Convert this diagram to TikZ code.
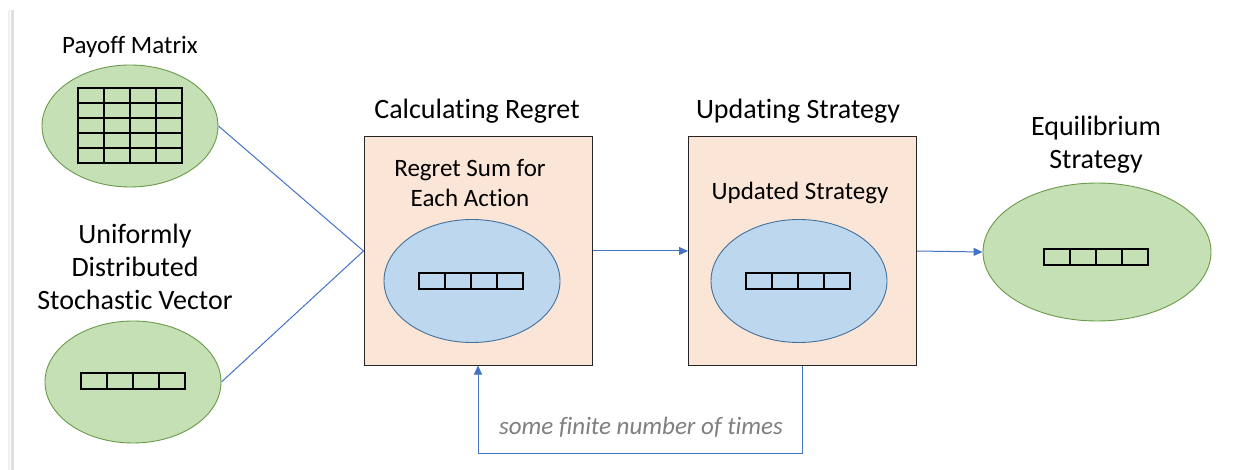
\documentclass[tikz,border=0pt]{standalone}
\usepackage{fontspec}
\setmainfont{Carlito}[Ligatures={NoCommon}]
\usetikzlibrary{shapes.geometric,arrows.meta}

\definecolor{greenfill}{HTML}{C5E0B4}
\definecolor{greenline}{HTML}{6A9A4A}
\definecolor{bluefill}{HTML}{BDD7EE}
\definecolor{blueline}{HTML}{41719C}
\definecolor{boxfill}{HTML}{FBE5D6}
\definecolor{flowblue}{HTML}{4472C4}
\definecolor{notegray}{HTML}{7F7F7F}

\tikzset{
  greenell/.style={ellipse, draw=greenline, fill=greenfill, line width=0.9pt,
    minimum width=176pt, minimum height=122pt, inner sep=0pt},
  blueell/.style={ellipse, draw=blueline, fill=bluefill, line width=0.9pt,
    minimum width=176pt, minimum height=123pt, inner sep=0pt},
  stagebox/.style={rectangle, draw=black!85, fill=boxfill, line width=1pt,
    minimum width=228pt, minimum height=228pt, inner sep=0pt},
  bigtxt/.style={font=\fontsize{28}{33}\selectfont, align=center, inner sep=0pt},
  smalltxt/.style={font=\fontsize{25}{30}\selectfont, align=center, inner sep=0pt},
  flow/.style={draw=flowblue, line width=1pt},
  flowarrow/.style={flow, -{Triangle[length=9pt,width=8pt]}},
  cellline/.style={draw=black, line width=1.6pt},
}

% a row of four cells centred at #1
\newcommand{\vecrow}[1]{%
  \begin{scope}[shift={#1}]
    \draw[cellline] (-52,-8) rectangle (52,8);
    \foreach \i in {-26,0,26} \draw[cellline] (\i,-8) -- (\i,8);
  \end{scope}}

\begin{document}
\begin{tikzpicture}[x=1pt,y=-1pt]
\useasboundingbox (0,0) rectangle (1250,470);
\fill[white] (0,0) rectangle (1250,470);

% page edge shadow
\draw[black!12, line width=3pt] (12,10) -- (12,470);
\draw[black!6, line width=2pt] (9,10) -- (9,470);

% inputs
\node[smalltxt] (payofflabel) at (130,47) {Payoff Matrix};
\node[greenell] (payoff) at (130,126) {};
\begin{scope}[shift={(130,125.5)}]
  \draw[cellline] (-52,-37.5) rectangle (52,37.5);
  \foreach \i in {-26,0,26} \draw[cellline] (\i,-37.5) -- (\i,37.5);
  \foreach \j in {-22.5,-7.5,7.5,22.5} \draw[cellline] (-52,\j) -- (52,\j);
\end{scope}

\node[bigtxt] (veclabel) at (135,267) {Uniformly\\Distributed\\Stochastic Vector};
\node[greenell] (vec) at (133,382) {};
\vecrow{(133,381)}

% stage 1
\node[bigtxt] (regretlabel) at (477,111) {Calculating Regret};
\node[stagebox] (box1) at (478,251) {};
\node[smalltxt] (regrettxt) at (470,183) {Regret Sum for\\Each Action};
\node[blueell] (regretell) at (472,281) {};
\vecrow{(471,281)}

% stage 2
\node[bigtxt] (updatelabel) at (798,111) {Updating Strategy};
\node[stagebox] (box2) at (802.5,251) {};
\node[smalltxt] (updatetxt) at (800,193) {Updated Strategy};
\node[blueell] (updateell) at (799,281) {};
\vecrow{(798,281)}

% output
\node[bigtxt] (eqlabel) at (1096,145) {Equilibrium\\Strategy};
\node[greenell, minimum width=228pt, minimum height=138pt] (eq) at (1097,252) {};
\vecrow{(1096,257)}

% connectors
\draw[flow] (payoff.east) -- (box1.west);
\draw[flow] (vec.east) -- (box1.west);
\draw[flowarrow] (box1.east) -- (box2.west);
\draw[flowarrow] (box2.east) -- (eq.west);
\draw[flowarrow] (box2.south) -- ++(0,88) -| (box1.south);
\node[font=\fontsize{25}{30}\selectfont\itshape, text=notegray, inner sep=0pt] (loopnote) at (641,427) {some finite number of times};
\end{tikzpicture}
\end{document}
